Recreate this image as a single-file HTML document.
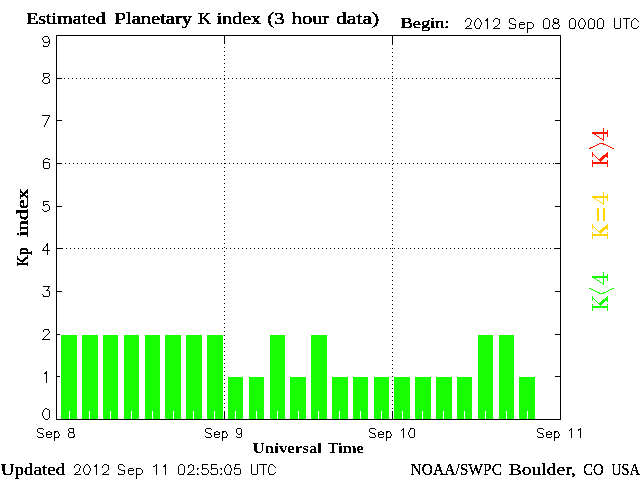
<!DOCTYPE html>
<html><head><meta charset="utf-8"><title>Estimated Planetary K index</title>
<style>
html,body{margin:0;padding:0;background:#fff;}
body{width:640px;height:480px;overflow:hidden;}
svg{display:block;}
.sb{font-family:"Liberation Serif",serif;font-weight:bold;fill:#000;}
.st{font-family:"Liberation Serif",serif;font-weight:normal;fill:#000;stroke:#000;stroke-width:0.6px;}
.sk{font-family:"Liberation Serif",serif;font-weight:normal;fill:#000;stroke:#000;stroke-width:0.95px;}
.sm{font-family:"Liberation Serif",serif;font-weight:normal;fill:#000;stroke:#000;stroke-width:0.42px;}
.hs{fill:none;stroke:#000;stroke-width:1;stroke-linecap:square;stroke-linejoin:miter;shape-rendering:crispEdges;}
</style></head><body>
<svg width="640" height="480" viewBox="0 0 640 480">
<defs>
<filter id="th" x="0" y="0" width="640" height="480" filterUnits="userSpaceOnUse" color-interpolation-filters="sRGB"><feComponentTransfer><feFuncA type="discrete" tableValues="0 0 0 1 1"/></feComponentTransfer></filter>
<filter id="th5" x="0" y="0" width="640" height="480" filterUnits="userSpaceOnUse" color-interpolation-filters="sRGB"><feComponentTransfer><feFuncA type="discrete" tableValues="0 1"/></feComponentTransfer></filter>
</defs>
<rect x="0" y="0" width="640" height="480" fill="#ffffff"/>

<g shape-rendering="crispEdges" fill="#000000">
<rect x="56" y="376" width="6" height="1"/>
<rect x="555" y="376" width="6" height="1"/>
<rect x="56" y="334" width="6" height="1"/>
<rect x="555" y="334" width="6" height="1"/>
<rect x="56" y="291" width="6" height="1"/>
<rect x="555" y="291" width="6" height="1"/>
<rect x="56" y="248" width="6" height="1"/>
<rect x="555" y="248" width="6" height="1"/>
<rect x="56" y="206" width="6" height="1"/>
<rect x="555" y="206" width="6" height="1"/>
<rect x="56" y="163" width="6" height="1"/>
<rect x="555" y="163" width="6" height="1"/>
<rect x="56" y="120" width="6" height="1"/>
<rect x="555" y="120" width="6" height="1"/>
<rect x="56" y="78" width="6" height="1"/>
<rect x="555" y="78" width="6" height="1"/>
</g>
<g shape-rendering="crispEdges" fill="#17ff00">
<rect fill="#ffffff" x="60" y="334" width="18" height="85"/><rect x="61" y="335" width="16" height="84"/>
<rect fill="#ffffff" x="81" y="334" width="18" height="85"/><rect x="82" y="335" width="16" height="84"/>
<rect fill="#ffffff" x="102" y="334" width="17" height="85"/><rect x="103" y="335" width="15" height="84"/>
<rect fill="#ffffff" x="123" y="334" width="17" height="85"/><rect x="124" y="335" width="15" height="84"/>
<rect fill="#ffffff" x="144" y="334" width="17" height="85"/><rect x="145" y="335" width="15" height="84"/>
<rect fill="#ffffff" x="164" y="334" width="18" height="85"/><rect x="165" y="335" width="16" height="84"/>
<rect fill="#ffffff" x="185" y="334" width="18" height="85"/><rect x="186" y="335" width="16" height="84"/>
<rect fill="#ffffff" x="206" y="334" width="18" height="85"/><rect x="207" y="335" width="16" height="84"/>
<rect fill="#ffffff" x="227" y="376" width="17" height="43"/><rect x="228" y="377" width="15" height="42"/>
<rect fill="#ffffff" x="248" y="376" width="17" height="43"/><rect x="249" y="377" width="15" height="42"/>
<rect fill="#ffffff" x="269" y="334" width="17" height="85"/><rect x="270" y="335" width="15" height="84"/>
<rect fill="#ffffff" x="289" y="376" width="18" height="43"/><rect x="290" y="377" width="16" height="42"/>
<rect fill="#ffffff" x="310" y="334" width="18" height="85"/><rect x="311" y="335" width="16" height="84"/>
<rect fill="#ffffff" x="331" y="376" width="18" height="43"/><rect x="332" y="377" width="16" height="42"/>
<rect fill="#ffffff" x="352" y="376" width="17" height="43"/><rect x="353" y="377" width="15" height="42"/>
<rect fill="#ffffff" x="373" y="376" width="17" height="43"/><rect x="374" y="377" width="15" height="42"/>
<rect fill="#ffffff" x="393" y="376" width="18" height="43"/><rect x="394" y="377" width="16" height="42"/>
<rect fill="#ffffff" x="414" y="376" width="18" height="43"/><rect x="415" y="377" width="16" height="42"/>
<rect fill="#ffffff" x="435" y="376" width="18" height="43"/><rect x="436" y="377" width="16" height="42"/>
<rect fill="#ffffff" x="456" y="376" width="17" height="43"/><rect x="457" y="377" width="15" height="42"/>
<rect fill="#ffffff" x="477" y="334" width="17" height="85"/><rect x="478" y="335" width="15" height="84"/>
<rect fill="#ffffff" x="498" y="334" width="17" height="85"/><rect x="499" y="335" width="15" height="84"/>
<rect fill="#ffffff" x="518" y="376" width="18" height="43"/><rect x="519" y="377" width="16" height="42"/>
</g>
<g shape-rendering="crispEdges" fill="#ffffff">
<rect x="69" y="411" width="1" height="8"/>
<rect x="89" y="411" width="1" height="8"/>
<rect x="110" y="411" width="1" height="8"/>
<rect x="131" y="411" width="1" height="8"/>
<rect x="152" y="411" width="1" height="8"/>
<rect x="173" y="411" width="1" height="8"/>
<rect x="193" y="411" width="1" height="8"/>
<rect x="214" y="411" width="1" height="8"/>
<rect x="235" y="411" width="1" height="8"/>
<rect x="256" y="411" width="1" height="8"/>
<rect x="277" y="411" width="1" height="8"/>
<rect x="298" y="411" width="1" height="8"/>
<rect x="318" y="411" width="1" height="8"/>
<rect x="339" y="411" width="1" height="8"/>
<rect x="360" y="411" width="1" height="8"/>
<rect x="381" y="411" width="1" height="8"/>
<rect x="402" y="411" width="1" height="8"/>
<rect x="422" y="411" width="1" height="8"/>
<rect x="443" y="411" width="1" height="8"/>
<rect x="464" y="411" width="1" height="8"/>
<rect x="485" y="411" width="1" height="8"/>
<rect x="506" y="411" width="1" height="8"/>
<rect x="527" y="411" width="1" height="8"/>
</g>
<g shape-rendering="crispEdges" fill="#000000">
<path d="M56 78h1v1h-1zM60 78h1v1h-1zM64 78h1v1h-1zM68 78h1v1h-1zM72 78h1v1h-1zM76 78h1v1h-1zM80 78h1v1h-1zM84 78h1v1h-1zM88 78h1v1h-1zM92 78h1v1h-1zM96 78h1v1h-1zM100 78h1v1h-1zM104 78h1v1h-1zM108 78h1v1h-1zM112 78h1v1h-1zM116 78h1v1h-1zM120 78h1v1h-1zM124 78h1v1h-1zM128 78h1v1h-1zM132 78h1v1h-1zM136 78h1v1h-1zM140 78h1v1h-1zM144 78h1v1h-1zM148 78h1v1h-1zM152 78h1v1h-1zM156 78h1v1h-1zM160 78h1v1h-1zM164 78h1v1h-1zM168 78h1v1h-1zM172 78h1v1h-1zM176 78h1v1h-1zM180 78h1v1h-1zM184 78h1v1h-1zM188 78h1v1h-1zM192 78h1v1h-1zM196 78h1v1h-1zM200 78h1v1h-1zM204 78h1v1h-1zM208 78h1v1h-1zM212 78h1v1h-1zM216 78h1v1h-1zM220 78h1v1h-1zM224 78h1v1h-1zM228 78h1v1h-1zM232 78h1v1h-1zM236 78h1v1h-1zM240 78h1v1h-1zM244 78h1v1h-1zM248 78h1v1h-1zM252 78h1v1h-1zM256 78h1v1h-1zM260 78h1v1h-1zM264 78h1v1h-1zM268 78h1v1h-1zM272 78h1v1h-1zM276 78h1v1h-1zM280 78h1v1h-1zM284 78h1v1h-1zM288 78h1v1h-1zM292 78h1v1h-1zM296 78h1v1h-1zM300 78h1v1h-1zM304 78h1v1h-1zM308 78h1v1h-1zM312 78h1v1h-1zM316 78h1v1h-1zM320 78h1v1h-1zM324 78h1v1h-1zM328 78h1v1h-1zM332 78h1v1h-1zM336 78h1v1h-1zM340 78h1v1h-1zM344 78h1v1h-1zM348 78h1v1h-1zM352 78h1v1h-1zM356 78h1v1h-1zM360 78h1v1h-1zM364 78h1v1h-1zM368 78h1v1h-1zM372 78h1v1h-1zM376 78h1v1h-1zM380 78h1v1h-1zM384 78h1v1h-1zM388 78h1v1h-1zM392 78h1v1h-1zM396 78h1v1h-1zM400 78h1v1h-1zM404 78h1v1h-1zM408 78h1v1h-1zM412 78h1v1h-1zM416 78h1v1h-1zM420 78h1v1h-1zM424 78h1v1h-1zM428 78h1v1h-1zM432 78h1v1h-1zM436 78h1v1h-1zM440 78h1v1h-1zM444 78h1v1h-1zM448 78h1v1h-1zM452 78h1v1h-1zM456 78h1v1h-1zM460 78h1v1h-1zM464 78h1v1h-1zM468 78h1v1h-1zM472 78h1v1h-1zM476 78h1v1h-1zM480 78h1v1h-1zM484 78h1v1h-1zM488 78h1v1h-1zM492 78h1v1h-1zM496 78h1v1h-1zM500 78h1v1h-1zM504 78h1v1h-1zM508 78h1v1h-1zM512 78h1v1h-1zM516 78h1v1h-1zM520 78h1v1h-1zM524 78h1v1h-1zM528 78h1v1h-1zM532 78h1v1h-1zM536 78h1v1h-1zM540 78h1v1h-1zM544 78h1v1h-1zM548 78h1v1h-1zM552 78h1v1h-1zM556 78h1v1h-1zM560 78h1v1h-1zM57 163h1v1h-1zM61 163h1v1h-1zM65 163h1v1h-1zM69 163h1v1h-1zM73 163h1v1h-1zM77 163h1v1h-1zM81 163h1v1h-1zM85 163h1v1h-1zM89 163h1v1h-1zM93 163h1v1h-1zM97 163h1v1h-1zM101 163h1v1h-1zM105 163h1v1h-1zM109 163h1v1h-1zM113 163h1v1h-1zM117 163h1v1h-1zM121 163h1v1h-1zM125 163h1v1h-1zM129 163h1v1h-1zM133 163h1v1h-1zM137 163h1v1h-1zM141 163h1v1h-1zM145 163h1v1h-1zM149 163h1v1h-1zM153 163h1v1h-1zM157 163h1v1h-1zM161 163h1v1h-1zM165 163h1v1h-1zM169 163h1v1h-1zM173 163h1v1h-1zM177 163h1v1h-1zM181 163h1v1h-1zM185 163h1v1h-1zM189 163h1v1h-1zM193 163h1v1h-1zM197 163h1v1h-1zM201 163h1v1h-1zM205 163h1v1h-1zM209 163h1v1h-1zM213 163h1v1h-1zM217 163h1v1h-1zM221 163h1v1h-1zM225 163h1v1h-1zM229 163h1v1h-1zM233 163h1v1h-1zM237 163h1v1h-1zM241 163h1v1h-1zM245 163h1v1h-1zM249 163h1v1h-1zM253 163h1v1h-1zM257 163h1v1h-1zM261 163h1v1h-1zM265 163h1v1h-1zM269 163h1v1h-1zM273 163h1v1h-1zM277 163h1v1h-1zM281 163h1v1h-1zM285 163h1v1h-1zM289 163h1v1h-1zM293 163h1v1h-1zM297 163h1v1h-1zM301 163h1v1h-1zM305 163h1v1h-1zM309 163h1v1h-1zM313 163h1v1h-1zM317 163h1v1h-1zM321 163h1v1h-1zM325 163h1v1h-1zM329 163h1v1h-1zM333 163h1v1h-1zM337 163h1v1h-1zM341 163h1v1h-1zM345 163h1v1h-1zM349 163h1v1h-1zM353 163h1v1h-1zM357 163h1v1h-1zM361 163h1v1h-1zM365 163h1v1h-1zM369 163h1v1h-1zM373 163h1v1h-1zM377 163h1v1h-1zM381 163h1v1h-1zM385 163h1v1h-1zM389 163h1v1h-1zM393 163h1v1h-1zM397 163h1v1h-1zM401 163h1v1h-1zM405 163h1v1h-1zM409 163h1v1h-1zM413 163h1v1h-1zM417 163h1v1h-1zM421 163h1v1h-1zM425 163h1v1h-1zM429 163h1v1h-1zM433 163h1v1h-1zM437 163h1v1h-1zM441 163h1v1h-1zM445 163h1v1h-1zM449 163h1v1h-1zM453 163h1v1h-1zM457 163h1v1h-1zM461 163h1v1h-1zM465 163h1v1h-1zM469 163h1v1h-1zM473 163h1v1h-1zM477 163h1v1h-1zM481 163h1v1h-1zM485 163h1v1h-1zM489 163h1v1h-1zM493 163h1v1h-1zM497 163h1v1h-1zM501 163h1v1h-1zM505 163h1v1h-1zM509 163h1v1h-1zM513 163h1v1h-1zM517 163h1v1h-1zM521 163h1v1h-1zM525 163h1v1h-1zM529 163h1v1h-1zM533 163h1v1h-1zM537 163h1v1h-1zM541 163h1v1h-1zM545 163h1v1h-1zM549 163h1v1h-1zM553 163h1v1h-1zM557 163h1v1h-1zM58 248h1v1h-1zM62 248h1v1h-1zM66 248h1v1h-1zM70 248h1v1h-1zM74 248h1v1h-1zM78 248h1v1h-1zM82 248h1v1h-1zM86 248h1v1h-1zM90 248h1v1h-1zM94 248h1v1h-1zM98 248h1v1h-1zM102 248h1v1h-1zM106 248h1v1h-1zM110 248h1v1h-1zM114 248h1v1h-1zM118 248h1v1h-1zM122 248h1v1h-1zM126 248h1v1h-1zM130 248h1v1h-1zM134 248h1v1h-1zM138 248h1v1h-1zM142 248h1v1h-1zM146 248h1v1h-1zM150 248h1v1h-1zM154 248h1v1h-1zM158 248h1v1h-1zM162 248h1v1h-1zM166 248h1v1h-1zM170 248h1v1h-1zM174 248h1v1h-1zM178 248h1v1h-1zM182 248h1v1h-1zM186 248h1v1h-1zM190 248h1v1h-1zM194 248h1v1h-1zM198 248h1v1h-1zM202 248h1v1h-1zM206 248h1v1h-1zM210 248h1v1h-1zM214 248h1v1h-1zM218 248h1v1h-1zM222 248h1v1h-1zM226 248h1v1h-1zM230 248h1v1h-1zM234 248h1v1h-1zM238 248h1v1h-1zM242 248h1v1h-1zM246 248h1v1h-1zM250 248h1v1h-1zM254 248h1v1h-1zM258 248h1v1h-1zM262 248h1v1h-1zM266 248h1v1h-1zM270 248h1v1h-1zM274 248h1v1h-1zM278 248h1v1h-1zM282 248h1v1h-1zM286 248h1v1h-1zM290 248h1v1h-1zM294 248h1v1h-1zM298 248h1v1h-1zM302 248h1v1h-1zM306 248h1v1h-1zM310 248h1v1h-1zM314 248h1v1h-1zM318 248h1v1h-1zM322 248h1v1h-1zM326 248h1v1h-1zM330 248h1v1h-1zM334 248h1v1h-1zM338 248h1v1h-1zM342 248h1v1h-1zM346 248h1v1h-1zM350 248h1v1h-1zM354 248h1v1h-1zM358 248h1v1h-1zM362 248h1v1h-1zM366 248h1v1h-1zM370 248h1v1h-1zM374 248h1v1h-1zM378 248h1v1h-1zM382 248h1v1h-1zM386 248h1v1h-1zM390 248h1v1h-1zM394 248h1v1h-1zM398 248h1v1h-1zM402 248h1v1h-1zM406 248h1v1h-1zM410 248h1v1h-1zM414 248h1v1h-1zM418 248h1v1h-1zM422 248h1v1h-1zM426 248h1v1h-1zM430 248h1v1h-1zM434 248h1v1h-1zM438 248h1v1h-1zM442 248h1v1h-1zM446 248h1v1h-1zM450 248h1v1h-1zM454 248h1v1h-1zM458 248h1v1h-1zM462 248h1v1h-1zM466 248h1v1h-1zM470 248h1v1h-1zM474 248h1v1h-1zM478 248h1v1h-1zM482 248h1v1h-1zM486 248h1v1h-1zM490 248h1v1h-1zM494 248h1v1h-1zM498 248h1v1h-1zM502 248h1v1h-1zM506 248h1v1h-1zM510 248h1v1h-1zM514 248h1v1h-1zM518 248h1v1h-1zM522 248h1v1h-1zM526 248h1v1h-1zM530 248h1v1h-1zM534 248h1v1h-1zM538 248h1v1h-1zM542 248h1v1h-1zM546 248h1v1h-1zM550 248h1v1h-1zM554 248h1v1h-1zM558 248h1v1h-1zM224 419h1v1h-1zM224 415h1v1h-1zM224 411h1v1h-1zM224 407h1v1h-1zM224 403h1v1h-1zM224 399h1v1h-1zM224 395h1v1h-1zM224 391h1v1h-1zM224 387h1v1h-1zM224 383h1v1h-1zM224 379h1v1h-1zM224 375h1v1h-1zM224 371h1v1h-1zM224 367h1v1h-1zM224 363h1v1h-1zM224 359h1v1h-1zM224 355h1v1h-1zM224 351h1v1h-1zM224 347h1v1h-1zM224 343h1v1h-1zM224 339h1v1h-1zM224 335h1v1h-1zM224 331h1v1h-1zM224 327h1v1h-1zM224 323h1v1h-1zM224 319h1v1h-1zM224 315h1v1h-1zM224 311h1v1h-1zM224 307h1v1h-1zM224 303h1v1h-1zM224 299h1v1h-1zM224 295h1v1h-1zM224 291h1v1h-1zM224 287h1v1h-1zM224 283h1v1h-1zM224 279h1v1h-1zM224 275h1v1h-1zM224 271h1v1h-1zM224 267h1v1h-1zM224 263h1v1h-1zM224 259h1v1h-1zM224 255h1v1h-1zM224 251h1v1h-1zM224 247h1v1h-1zM224 243h1v1h-1zM224 239h1v1h-1zM224 235h1v1h-1zM224 231h1v1h-1zM224 227h1v1h-1zM224 223h1v1h-1zM224 219h1v1h-1zM224 215h1v1h-1zM224 211h1v1h-1zM224 207h1v1h-1zM224 203h1v1h-1zM224 199h1v1h-1zM224 195h1v1h-1zM224 191h1v1h-1zM224 187h1v1h-1zM224 183h1v1h-1zM224 179h1v1h-1zM224 175h1v1h-1zM224 171h1v1h-1zM224 167h1v1h-1zM224 163h1v1h-1zM224 159h1v1h-1zM224 155h1v1h-1zM224 151h1v1h-1zM224 147h1v1h-1zM224 143h1v1h-1zM224 139h1v1h-1zM224 135h1v1h-1zM224 131h1v1h-1zM224 127h1v1h-1zM224 123h1v1h-1zM224 119h1v1h-1zM224 115h1v1h-1zM224 111h1v1h-1zM224 107h1v1h-1zM224 103h1v1h-1zM224 99h1v1h-1zM224 95h1v1h-1zM224 91h1v1h-1zM224 87h1v1h-1zM224 83h1v1h-1zM224 79h1v1h-1zM224 75h1v1h-1zM224 71h1v1h-1zM224 67h1v1h-1zM224 63h1v1h-1zM224 59h1v1h-1zM224 55h1v1h-1zM224 51h1v1h-1zM224 47h1v1h-1zM224 43h1v1h-1zM224 39h1v1h-1zM224 35h1v1h-1zM392 416h1v1h-1zM392 412h1v1h-1zM392 408h1v1h-1zM392 404h1v1h-1zM392 400h1v1h-1zM392 396h1v1h-1zM392 392h1v1h-1zM392 388h1v1h-1zM392 384h1v1h-1zM392 380h1v1h-1zM392 376h1v1h-1zM392 372h1v1h-1zM392 368h1v1h-1zM392 364h1v1h-1zM392 360h1v1h-1zM392 356h1v1h-1zM392 352h1v1h-1zM392 348h1v1h-1zM392 344h1v1h-1zM392 340h1v1h-1zM392 336h1v1h-1zM392 332h1v1h-1zM392 328h1v1h-1zM392 324h1v1h-1zM392 320h1v1h-1zM392 316h1v1h-1zM392 312h1v1h-1zM392 308h1v1h-1zM392 304h1v1h-1zM392 300h1v1h-1zM392 296h1v1h-1zM392 292h1v1h-1zM392 288h1v1h-1zM392 284h1v1h-1zM392 280h1v1h-1zM392 276h1v1h-1zM392 272h1v1h-1zM392 268h1v1h-1zM392 264h1v1h-1zM392 260h1v1h-1zM392 256h1v1h-1zM392 252h1v1h-1zM392 248h1v1h-1zM392 244h1v1h-1zM392 240h1v1h-1zM392 236h1v1h-1zM392 232h1v1h-1zM392 228h1v1h-1zM392 224h1v1h-1zM392 220h1v1h-1zM392 216h1v1h-1zM392 212h1v1h-1zM392 208h1v1h-1zM392 204h1v1h-1zM392 200h1v1h-1zM392 196h1v1h-1zM392 192h1v1h-1zM392 188h1v1h-1zM392 184h1v1h-1zM392 180h1v1h-1zM392 176h1v1h-1zM392 172h1v1h-1zM392 168h1v1h-1zM392 164h1v1h-1zM392 160h1v1h-1zM392 156h1v1h-1zM392 152h1v1h-1zM392 148h1v1h-1zM392 144h1v1h-1zM392 140h1v1h-1zM392 136h1v1h-1zM392 132h1v1h-1zM392 128h1v1h-1zM392 124h1v1h-1zM392 120h1v1h-1zM392 116h1v1h-1zM392 112h1v1h-1zM392 108h1v1h-1zM392 104h1v1h-1zM392 100h1v1h-1zM392 96h1v1h-1zM392 92h1v1h-1zM392 88h1v1h-1zM392 84h1v1h-1zM392 80h1v1h-1zM392 76h1v1h-1zM392 72h1v1h-1zM392 68h1v1h-1zM392 64h1v1h-1zM392 60h1v1h-1zM392 56h1v1h-1zM392 52h1v1h-1zM392 48h1v1h-1zM392 44h1v1h-1zM392 40h1v1h-1zM392 36h1v1h-1z"/>
<rect x="56" y="35" width="505" height="1"/>
<rect x="56" y="419" width="505" height="1"/>
<rect x="56" y="35" width="1" height="385"/>
<rect x="560" y="35" width="1" height="385"/>
<rect x="224" y="411" width="1" height="8"/>
<rect x="224" y="35" width="1" height="9"/>
<rect x="392" y="411" width="1" height="8"/>
<rect x="392" y="35" width="1" height="9"/>
</g>
<path fill="#000" shape-rendering="crispEdges" d="M467 18h3v1h-3zM477 18h2v1h-2zM487 18h1v1h-1zM495 18h3v1h-3zM510 18h4v1h-4zM545 18h3v1h-3zM554 18h3v1h-3zM571 18h3v1h-3zM581 18h2v1h-2zM590 18h2v1h-2zM599 18h3v1h-3zM614 18h1v1h-1zM620 18h1v1h-1zM623 18h7v1h-7zM634 18h2v1h-2zM466 19h1v1h-1zM470 19h1v1h-1zM476 19h1v1h-1zM479 19h1v1h-1zM486 19h2v1h-2zM494 19h1v1h-1zM498 19h2v1h-2zM509 19h1v1h-1zM514 19h1v1h-1zM544 19h1v1h-1zM548 19h1v1h-1zM553 19h1v1h-1zM557 19h2v1h-2zM570 19h1v1h-1zM574 19h1v1h-1zM580 19h1v1h-1zM583 19h1v1h-1zM589 19h1v1h-1zM592 19h2v1h-2zM598 19h1v1h-1zM602 19h1v1h-1zM614 19h1v1h-1zM620 19h1v1h-1zM626 19h1v1h-1zM633 19h1v1h-1zM636 19h1v1h-1zM465 20h1v1h-1zM471 20h1v1h-1zM475 20h1v1h-1zM480 20h1v1h-1zM485 20h3v1h-3zM493 20h1v1h-1zM499 20h1v1h-1zM509 20h1v1h-1zM515 20h1v1h-1zM543 20h1v1h-1zM549 20h1v1h-1zM553 20h1v1h-1zM558 20h1v1h-1zM569 20h1v1h-1zM575 20h1v1h-1zM579 20h1v1h-1zM584 20h1v1h-1zM588 20h1v1h-1zM594 20h1v1h-1zM597 20h1v1h-1zM603 20h1v1h-1zM614 20h1v1h-1zM620 20h1v1h-1zM626 20h1v1h-1zM632 20h1v1h-1zM637 20h1v1h-1zM465 21h1v1h-1zM471 21h1v1h-1zM475 21h1v1h-1zM480 21h1v1h-1zM487 21h1v1h-1zM493 21h1v1h-1zM499 21h1v1h-1zM509 21h1v1h-1zM543 21h1v1h-1zM549 21h1v1h-1zM553 21h1v1h-1zM558 21h1v1h-1zM569 21h1v1h-1zM575 21h1v1h-1zM579 21h1v1h-1zM584 21h1v1h-1zM588 21h1v1h-1zM594 21h1v1h-1zM597 21h1v1h-1zM603 21h1v1h-1zM614 21h1v1h-1zM620 21h1v1h-1zM626 21h1v1h-1zM631 21h1v1h-1zM638 21h1v1h-1zM470 22h1v1h-1zM474 22h1v1h-1zM481 22h1v1h-1zM487 22h1v1h-1zM499 22h1v1h-1zM509 22h1v1h-1zM520 22h4v1h-4zM527 22h5v1h-5zM543 22h1v1h-1zM549 22h1v1h-1zM553 22h3v1h-3zM557 22h2v1h-2zM569 22h1v1h-1zM575 22h1v1h-1zM578 22h1v1h-1zM585 22h1v1h-1zM588 22h1v1h-1zM594 22h1v1h-1zM597 22h1v1h-1zM603 22h1v1h-1zM614 22h1v1h-1zM620 22h1v1h-1zM626 22h1v1h-1zM631 22h1v1h-1zM470 23h1v1h-1zM474 23h1v1h-1zM481 23h1v1h-1zM487 23h1v1h-1zM499 23h1v1h-1zM510 23h2v1h-2zM519 23h1v1h-1zM524 23h1v1h-1zM527 23h1v1h-1zM532 23h1v1h-1zM543 23h1v1h-1zM549 23h1v1h-1zM554 23h4v1h-4zM569 23h1v1h-1zM575 23h1v1h-1zM578 23h1v1h-1zM585 23h1v1h-1zM588 23h1v1h-1zM594 23h1v1h-1zM597 23h1v1h-1zM603 23h1v1h-1zM614 23h1v1h-1zM620 23h1v1h-1zM626 23h1v1h-1zM631 23h1v1h-1zM470 24h1v1h-1zM474 24h1v1h-1zM481 24h1v1h-1zM487 24h1v1h-1zM498 24h1v1h-1zM512 24h4v1h-4zM519 24h6v1h-6zM527 24h1v1h-1zM533 24h1v1h-1zM543 24h1v1h-1zM549 24h1v1h-1zM553 24h1v1h-1zM558 24h1v1h-1zM569 24h1v1h-1zM575 24h1v1h-1zM578 24h1v1h-1zM585 24h1v1h-1zM588 24h1v1h-1zM594 24h1v1h-1zM597 24h1v1h-1zM603 24h1v1h-1zM614 24h1v1h-1zM620 24h1v1h-1zM626 24h1v1h-1zM631 24h1v1h-1zM469 25h1v1h-1zM474 25h1v1h-1zM480 25h1v1h-1zM487 25h1v1h-1zM497 25h1v1h-1zM515 25h1v1h-1zM519 25h1v1h-1zM527 25h1v1h-1zM533 25h1v1h-1zM543 25h1v1h-1zM549 25h1v1h-1zM552 25h1v1h-1zM559 25h1v1h-1zM569 25h1v1h-1zM575 25h1v1h-1zM578 25h1v1h-1zM584 25h1v1h-1zM588 25h1v1h-1zM594 25h1v1h-1zM597 25h1v1h-1zM603 25h1v1h-1zM614 25h1v1h-1zM620 25h1v1h-1zM626 25h1v1h-1zM631 25h1v1h-1zM467 26h2v1h-2zM475 26h1v1h-1zM480 26h1v1h-1zM487 26h1v1h-1zM495 26h2v1h-2zM515 26h1v1h-1zM519 26h1v1h-1zM527 26h1v1h-1zM533 26h1v1h-1zM543 26h1v1h-1zM549 26h1v1h-1zM552 26h1v1h-1zM559 26h1v1h-1zM569 26h1v1h-1zM575 26h1v1h-1zM579 26h1v1h-1zM584 26h1v1h-1zM588 26h1v1h-1zM594 26h1v1h-1zM597 26h1v1h-1zM603 26h1v1h-1zM614 26h1v1h-1zM620 26h1v1h-1zM626 26h1v1h-1zM631 26h1v1h-1zM638 26h1v1h-1zM466 27h1v1h-1zM475 27h1v1h-1zM479 27h1v1h-1zM487 27h1v1h-1zM494 27h1v1h-1zM509 27h1v1h-1zM515 27h1v1h-1zM519 27h1v1h-1zM524 27h1v1h-1zM527 27h1v1h-1zM532 27h1v1h-1zM543 27h1v1h-1zM548 27h1v1h-1zM553 27h1v1h-1zM558 27h1v1h-1zM569 27h1v1h-1zM574 27h1v1h-1zM579 27h1v1h-1zM583 27h1v1h-1zM588 27h1v1h-1zM593 27h1v1h-1zM597 27h1v1h-1zM602 27h1v1h-1zM614 27h1v1h-1zM620 27h1v1h-1zM626 27h1v1h-1zM632 27h1v1h-1zM637 27h1v1h-1zM465 28h7v1h-7zM476 28h4v1h-4zM487 28h1v1h-1zM493 28h7v1h-7zM509 28h6v1h-6zM520 28h4v1h-4zM527 28h5v1h-5zM544 28h5v1h-5zM553 28h6v1h-6zM570 28h5v1h-5zM580 28h4v1h-4zM589 28h5v1h-5zM598 28h5v1h-5zM615 28h5v1h-5zM626 28h1v1h-1zM633 28h4v1h-4zM527 29h1v1h-1zM527 30h1v1h-1zM527 31h1v1h-1zM527 32h1v1h-1zM44 36h4v1h-4zM43 37h1v1h-1zM48 37h1v1h-1zM42 38h1v1h-1zM48 38h1v1h-1zM42 39h1v1h-1zM49 39h1v1h-1zM43 40h1v1h-1zM49 40h1v1h-1zM43 41h1v1h-1zM48 41h2v1h-2zM44 42h4v1h-4zM49 42h1v1h-1zM49 43h1v1h-1zM48 44h1v1h-1zM43 45h1v1h-1zM48 45h1v1h-1zM43 46h5v1h-5zM43 73h6v1h-6zM43 74h1v1h-1zM49 74h1v1h-1zM43 75h1v1h-1zM49 75h1v1h-1zM43 76h1v1h-1zM48 76h1v1h-1zM44 77h4v1h-4zM44 78h1v1h-1zM48 78h1v1h-1zM43 79h1v1h-1zM49 79h1v1h-1zM42 80h1v1h-1zM49 80h1v1h-1zM42 81h1v1h-1zM49 81h1v1h-1zM43 82h1v1h-1zM48 82h2v1h-2zM44 83h4v1h-4zM42 115h8v1h-8zM49 116h1v1h-1zM48 117h1v1h-1zM48 118h1v1h-1zM47 119h1v1h-1zM47 120h1v1h-1zM46 121h1v1h-1zM46 122h1v1h-1zM45 123h1v1h-1zM45 124h1v1h-1zM44 125h1v1h-1zM44 126h1v1h-1zM45 158h3v1h-3zM44 159h1v1h-1zM48 159h2v1h-2zM43 160h1v1h-1zM43 161h1v1h-1zM43 162h6v1h-6zM43 163h1v1h-1zM49 163h1v1h-1zM43 164h1v1h-1zM49 164h1v1h-1zM43 165h1v1h-1zM49 165h1v1h-1zM43 166h1v1h-1zM49 166h1v1h-1zM43 167h1v1h-1zM49 167h1v1h-1zM44 168h5v1h-5zM43 201h6v1h-6zM43 202h1v1h-1zM43 203h1v1h-1zM43 204h1v1h-1zM45 204h3v1h-3zM43 205h2v1h-2zM48 205h1v1h-1zM49 206h1v1h-1zM49 207h1v1h-1zM49 208h1v1h-1zM42 209h1v1h-1zM49 209h1v1h-1zM43 210h1v1h-1zM47 210h2v1h-2zM44 211h3v1h-3zM47 243h1v1h-1zM46 244h2v1h-2zM46 245h2v1h-2zM45 246h1v1h-1zM47 246h1v1h-1zM44 247h1v1h-1zM47 247h1v1h-1zM43 248h1v1h-1zM47 248h1v1h-1zM43 249h1v1h-1zM47 249h1v1h-1zM42 250h8v1h-8zM47 251h1v1h-1zM47 252h1v1h-1zM47 253h1v1h-1zM47 254h1v1h-1zM43 286h7v1h-7zM48 287h1v1h-1zM48 288h1v1h-1zM47 289h1v1h-1zM46 290h3v1h-3zM49 291h1v1h-1zM49 292h1v1h-1zM49 293h1v1h-1zM42 294h1v1h-1zM49 294h1v1h-1zM43 295h1v1h-1zM49 295h1v1h-1zM43 296h6v1h-6zM44 329h5v1h-5zM43 330h1v1h-1zM48 330h1v1h-1zM43 331h1v1h-1zM49 331h1v1h-1zM49 332h1v1h-1zM48 333h1v1h-1zM47 334h1v1h-1zM46 335h1v1h-1zM45 336h1v1h-1zM44 337h1v1h-1zM43 338h1v1h-1zM42 339h8v1h-8zM46 371h1v1h-1zM45 372h2v1h-2zM44 373h3v1h-3zM46 374h1v1h-1zM46 375h1v1h-1zM46 376h1v1h-1zM46 377h1v1h-1zM46 378h1v1h-1zM46 379h1v1h-1zM46 380h1v1h-1zM46 381h1v1h-1zM46 382h1v1h-1zM45 408h2v1h-2zM44 409h1v1h-1zM47 409h2v1h-2zM43 410h1v1h-1zM49 410h1v1h-1zM43 411h1v1h-1zM49 411h1v1h-1zM42 412h1v1h-1zM49 412h1v1h-1zM42 413h1v1h-1zM49 413h1v1h-1zM42 414h1v1h-1zM49 414h1v1h-1zM42 415h1v1h-1zM49 415h1v1h-1zM43 416h1v1h-1zM49 416h1v1h-1zM43 417h1v1h-1zM49 417h1v1h-1zM44 418h1v1h-1zM48 418h1v1h-1zM45 419h3v1h-3zM38 428h5v1h-5zM69 428h5v1h-5zM206 428h5v1h-5zM237 428h4v1h-4zM370 428h5v1h-5zM403 428h1v1h-1zM410 428h4v1h-4zM538 428h5v1h-5zM571 428h1v1h-1zM580 428h1v1h-1zM37 429h1v1h-1zM43 429h1v1h-1zM68 429h1v1h-1zM73 429h1v1h-1zM205 429h1v1h-1zM211 429h1v1h-1zM236 429h1v1h-1zM241 429h1v1h-1zM369 429h1v1h-1zM375 429h1v1h-1zM402 429h2v1h-2zM410 429h1v1h-1zM414 429h1v1h-1zM537 429h1v1h-1zM543 429h1v1h-1zM570 429h2v1h-2zM578 429h3v1h-3zM37 430h1v1h-1zM68 430h1v1h-1zM73 430h1v1h-1zM205 430h1v1h-1zM236 430h1v1h-1zM241 430h1v1h-1zM369 430h1v1h-1zM401 430h1v1h-1zM403 430h1v1h-1zM409 430h1v1h-1zM414 430h1v1h-1zM537 430h1v1h-1zM569 430h1v1h-1zM571 430h1v1h-1zM578 430h1v1h-1zM580 430h1v1h-1zM37 431h1v1h-1zM48 431h2v1h-2zM54 431h4v1h-4zM69 431h1v1h-1zM73 431h1v1h-1zM205 431h1v1h-1zM216 431h2v1h-2zM222 431h4v1h-4zM236 431h1v1h-1zM241 431h1v1h-1zM369 431h1v1h-1zM380 431h2v1h-2zM386 431h4v1h-4zM403 431h1v1h-1zM409 431h1v1h-1zM414 431h1v1h-1zM537 431h1v1h-1zM548 431h2v1h-2zM554 431h4v1h-4zM571 431h1v1h-1zM580 431h1v1h-1zM38 432h2v1h-2zM46 432h2v1h-2zM50 432h2v1h-2zM54 432h2v1h-2zM58 432h1v1h-1zM69 432h5v1h-5zM206 432h2v1h-2zM214 432h2v1h-2zM218 432h2v1h-2zM222 432h2v1h-2zM226 432h1v1h-1zM236 432h1v1h-1zM241 432h1v1h-1zM370 432h2v1h-2zM378 432h2v1h-2zM382 432h2v1h-2zM386 432h2v1h-2zM390 432h1v1h-1zM403 432h1v1h-1zM408 432h1v1h-1zM414 432h1v1h-1zM538 432h2v1h-2zM546 432h2v1h-2zM550 432h2v1h-2zM554 432h2v1h-2zM558 432h1v1h-1zM571 432h1v1h-1zM580 432h1v1h-1zM40 433h3v1h-3zM46 433h1v1h-1zM51 433h1v1h-1zM54 433h1v1h-1zM58 433h1v1h-1zM68 433h1v1h-1zM73 433h1v1h-1zM208 433h3v1h-3zM214 433h1v1h-1zM219 433h1v1h-1zM222 433h1v1h-1zM226 433h1v1h-1zM237 433h1v1h-1zM240 433h2v1h-2zM372 433h3v1h-3zM378 433h1v1h-1zM383 433h1v1h-1zM386 433h1v1h-1zM390 433h1v1h-1zM403 433h1v1h-1zM408 433h1v1h-1zM414 433h1v1h-1zM540 433h3v1h-3zM546 433h1v1h-1zM551 433h1v1h-1zM554 433h1v1h-1zM558 433h1v1h-1zM571 433h1v1h-1zM580 433h1v1h-1zM42 434h1v1h-1zM46 434h6v1h-6zM54 434h1v1h-1zM59 434h1v1h-1zM68 434h1v1h-1zM74 434h1v1h-1zM210 434h1v1h-1zM214 434h6v1h-6zM222 434h1v1h-1zM227 434h1v1h-1zM238 434h2v1h-2zM241 434h1v1h-1zM374 434h1v1h-1zM378 434h6v1h-6zM386 434h1v1h-1zM391 434h1v1h-1zM403 434h1v1h-1zM408 434h1v1h-1zM414 434h1v1h-1zM542 434h1v1h-1zM546 434h6v1h-6zM554 434h1v1h-1zM559 434h1v1h-1zM571 434h1v1h-1zM580 434h1v1h-1zM43 435h1v1h-1zM46 435h1v1h-1zM54 435h1v1h-1zM59 435h1v1h-1zM68 435h1v1h-1zM74 435h1v1h-1zM211 435h1v1h-1zM214 435h1v1h-1zM222 435h1v1h-1zM227 435h1v1h-1zM241 435h1v1h-1zM375 435h1v1h-1zM378 435h1v1h-1zM386 435h1v1h-1zM391 435h1v1h-1zM403 435h1v1h-1zM409 435h1v1h-1zM414 435h1v1h-1zM543 435h1v1h-1zM546 435h1v1h-1zM554 435h1v1h-1zM559 435h1v1h-1zM571 435h1v1h-1zM580 435h1v1h-1zM37 436h1v1h-1zM43 436h1v1h-1zM46 436h1v1h-1zM51 436h1v1h-1zM54 436h1v1h-1zM58 436h1v1h-1zM68 436h1v1h-1zM73 436h2v1h-2zM205 436h1v1h-1zM211 436h1v1h-1zM214 436h1v1h-1zM219 436h1v1h-1zM222 436h1v1h-1zM226 436h1v1h-1zM236 436h1v1h-1zM241 436h1v1h-1zM369 436h1v1h-1zM375 436h1v1h-1zM378 436h1v1h-1zM383 436h1v1h-1zM386 436h1v1h-1zM390 436h1v1h-1zM403 436h1v1h-1zM409 436h1v1h-1zM414 436h1v1h-1zM537 436h1v1h-1zM543 436h1v1h-1zM546 436h1v1h-1zM551 436h1v1h-1zM554 436h1v1h-1zM558 436h1v1h-1zM571 436h1v1h-1zM580 436h1v1h-1zM38 437h5v1h-5zM47 437h4v1h-4zM54 437h5v1h-5zM69 437h5v1h-5zM206 437h5v1h-5zM215 437h4v1h-4zM222 437h5v1h-5zM237 437h4v1h-4zM370 437h5v1h-5zM379 437h4v1h-4zM386 437h5v1h-5zM403 437h1v1h-1zM410 437h4v1h-4zM538 437h5v1h-5zM547 437h4v1h-4zM554 437h5v1h-5zM571 437h1v1h-1zM580 437h1v1h-1zM54 438h1v1h-1zM222 438h1v1h-1zM386 438h1v1h-1zM554 438h1v1h-1zM54 439h1v1h-1zM222 439h1v1h-1zM386 439h1v1h-1zM554 439h1v1h-1zM54 440h1v1h-1zM222 440h1v1h-1zM386 440h1v1h-1zM554 440h1v1h-1zM76 464h3v1h-3zM86 464h2v1h-2zM96 464h1v1h-1zM104 464h3v1h-3zM119 464h4v1h-4zM156 464h1v1h-1zM165 464h1v1h-1zM180 464h3v1h-3zM190 464h2v1h-2zM202 464h6v1h-6zM211 464h6v1h-6zM227 464h2v1h-2zM235 464h5v1h-5zM251 464h1v1h-1zM257 464h1v1h-1zM259 464h8v1h-8zM270 464h3v1h-3zM75 465h1v1h-1zM79 465h1v1h-1zM85 465h1v1h-1zM88 465h1v1h-1zM95 465h2v1h-2zM103 465h1v1h-1zM107 465h2v1h-2zM118 465h1v1h-1zM123 465h1v1h-1zM155 465h2v1h-2zM164 465h2v1h-2zM179 465h1v1h-1zM183 465h1v1h-1zM188 465h2v1h-2zM192 465h2v1h-2zM202 465h1v1h-1zM211 465h1v1h-1zM226 465h1v1h-1zM229 465h2v1h-2zM235 465h1v1h-1zM251 465h1v1h-1zM257 465h1v1h-1zM263 465h1v1h-1zM269 465h1v1h-1zM273 465h1v1h-1zM74 466h1v1h-1zM80 466h1v1h-1zM84 466h1v1h-1zM89 466h1v1h-1zM94 466h3v1h-3zM102 466h1v1h-1zM108 466h1v1h-1zM118 466h1v1h-1zM124 466h1v1h-1zM153 466h2v1h-2zM156 466h1v1h-1zM163 466h3v1h-3zM178 466h1v1h-1zM184 466h1v1h-1zM188 466h1v1h-1zM193 466h1v1h-1zM202 466h1v1h-1zM211 466h1v1h-1zM225 466h1v1h-1zM230 466h1v1h-1zM235 466h1v1h-1zM251 466h1v1h-1zM257 466h1v1h-1zM263 466h1v1h-1zM269 466h1v1h-1zM274 466h1v1h-1zM74 467h1v1h-1zM80 467h1v1h-1zM84 467h1v1h-1zM89 467h1v1h-1zM96 467h1v1h-1zM102 467h1v1h-1zM108 467h1v1h-1zM118 467h1v1h-1zM156 467h1v1h-1zM165 467h1v1h-1zM178 467h1v1h-1zM184 467h1v1h-1zM188 467h1v1h-1zM193 467h1v1h-1zM202 467h1v1h-1zM211 467h1v1h-1zM225 467h1v1h-1zM230 467h1v1h-1zM234 467h1v1h-1zM251 467h1v1h-1zM257 467h1v1h-1zM263 467h1v1h-1zM268 467h1v1h-1zM275 467h1v1h-1zM79 468h1v1h-1zM83 468h1v1h-1zM90 468h1v1h-1zM96 468h1v1h-1zM108 468h1v1h-1zM118 468h1v1h-1zM129 468h4v1h-4zM136 468h5v1h-5zM156 468h1v1h-1zM165 468h1v1h-1zM178 468h1v1h-1zM184 468h1v1h-1zM193 468h1v1h-1zM197 468h2v1h-2zM202 468h5v1h-5zM211 468h6v1h-6zM220 468h2v1h-2zM224 468h1v1h-1zM231 468h1v1h-1zM234 468h6v1h-6zM251 468h1v1h-1zM257 468h1v1h-1zM263 468h1v1h-1zM268 468h1v1h-1zM79 469h1v1h-1zM83 469h1v1h-1zM90 469h1v1h-1zM96 469h1v1h-1zM108 469h1v1h-1zM119 469h2v1h-2zM128 469h1v1h-1zM133 469h1v1h-1zM136 469h1v1h-1zM141 469h1v1h-1zM156 469h1v1h-1zM165 469h1v1h-1zM178 469h1v1h-1zM184 469h1v1h-1zM193 469h1v1h-1zM197 469h1v1h-1zM202 469h1v1h-1zM207 469h1v1h-1zM211 469h1v1h-1zM217 469h1v1h-1zM221 469h1v1h-1zM224 469h1v1h-1zM231 469h1v1h-1zM234 469h1v1h-1zM240 469h1v1h-1zM251 469h1v1h-1zM257 469h1v1h-1zM263 469h1v1h-1zM268 469h1v1h-1zM79 470h1v1h-1zM83 470h1v1h-1zM90 470h1v1h-1zM96 470h1v1h-1zM107 470h1v1h-1zM121 470h4v1h-4zM128 470h6v1h-6zM136 470h1v1h-1zM142 470h1v1h-1zM156 470h1v1h-1zM165 470h1v1h-1zM178 470h1v1h-1zM184 470h1v1h-1zM192 470h1v1h-1zM208 470h1v1h-1zM217 470h1v1h-1zM224 470h1v1h-1zM231 470h1v1h-1zM240 470h1v1h-1zM251 470h1v1h-1zM257 470h1v1h-1zM263 470h1v1h-1zM268 470h1v1h-1zM78 471h1v1h-1zM83 471h1v1h-1zM89 471h1v1h-1zM96 471h1v1h-1zM106 471h1v1h-1zM124 471h1v1h-1zM128 471h1v1h-1zM136 471h1v1h-1zM142 471h1v1h-1zM156 471h1v1h-1zM165 471h1v1h-1zM178 471h1v1h-1zM184 471h1v1h-1zM191 471h1v1h-1zM208 471h1v1h-1zM217 471h1v1h-1zM224 471h1v1h-1zM230 471h1v1h-1zM240 471h1v1h-1zM251 471h1v1h-1zM257 471h1v1h-1zM263 471h1v1h-1zM268 471h1v1h-1zM76 472h2v1h-2zM84 472h1v1h-1zM89 472h1v1h-1zM96 472h1v1h-1zM104 472h2v1h-2zM124 472h1v1h-1zM128 472h1v1h-1zM136 472h1v1h-1zM142 472h1v1h-1zM156 472h1v1h-1zM165 472h1v1h-1zM178 472h1v1h-1zM184 472h1v1h-1zM189 472h2v1h-2zM201 472h1v1h-1zM208 472h1v1h-1zM210 472h1v1h-1zM217 472h1v1h-1zM225 472h1v1h-1zM230 472h1v1h-1zM234 472h1v1h-1zM240 472h1v1h-1zM251 472h1v1h-1zM257 472h1v1h-1zM263 472h1v1h-1zM268 472h1v1h-1zM275 472h1v1h-1zM75 473h1v1h-1zM84 473h1v1h-1zM88 473h1v1h-1zM96 473h1v1h-1zM103 473h1v1h-1zM118 473h1v1h-1zM124 473h1v1h-1zM128 473h1v1h-1zM133 473h1v1h-1zM136 473h1v1h-1zM141 473h1v1h-1zM156 473h1v1h-1zM165 473h1v1h-1zM178 473h1v1h-1zM183 473h1v1h-1zM188 473h1v1h-1zM197 473h1v1h-1zM202 473h1v1h-1zM207 473h1v1h-1zM211 473h1v1h-1zM217 473h1v1h-1zM221 473h1v1h-1zM225 473h1v1h-1zM230 473h1v1h-1zM234 473h1v1h-1zM240 473h1v1h-1zM251 473h1v1h-1zM257 473h1v1h-1zM263 473h1v1h-1zM269 473h1v1h-1zM274 473h1v1h-1zM74 474h7v1h-7zM85 474h4v1h-4zM96 474h1v1h-1zM102 474h7v1h-7zM118 474h6v1h-6zM129 474h4v1h-4zM136 474h5v1h-5zM156 474h1v1h-1zM165 474h1v1h-1zM179 474h5v1h-5zM187 474h8v1h-8zM197 474h2v1h-2zM202 474h5v1h-5zM211 474h6v1h-6zM220 474h2v1h-2zM226 474h5v1h-5zM235 474h5v1h-5zM252 474h5v1h-5zM263 474h1v1h-1zM269 474h5v1h-5zM136 475h1v1h-1zM136 476h1v1h-1zM136 477h1v1h-1zM136 478h1v1h-1z"/>
<g filter="url(#th)">
<text class="st" font-size="17" x="26.20" y="24.00" textLength="79.60" lengthAdjust="spacingAndGlyphs">Estimated</text>
<text class="st" font-size="17" x="114.50" y="24.00" textLength="77.60" lengthAdjust="spacingAndGlyphs">Planetary</text>
<text class="st" font-size="17" x="198.00" y="24.00" textLength="13.30" lengthAdjust="spacingAndGlyphs">K</text>
<text class="st" font-size="17" x="216.70" y="24.00" textLength="44.40" lengthAdjust="spacingAndGlyphs">index</text>
<text class="st" font-size="17" x="267.20" y="24.00" textLength="17.40" lengthAdjust="spacingAndGlyphs">(3</text>
<text class="st" font-size="17" x="291.70" y="24.00" textLength="37.50" lengthAdjust="spacingAndGlyphs">hour</text>
<text class="st" font-size="17" x="336.10" y="24.00" textLength="43.10" lengthAdjust="spacingAndGlyphs">data)</text>
<text class="st" font-size="15.5" x="400.60" y="28.00" textLength="48.80" lengthAdjust="spacingAndGlyphs">Begin:</text>
</g><g filter="url(#th5)">
<text class="sb" font-size="15" x="252.60" y="453.00" textLength="69.45" lengthAdjust="spacingAndGlyphs">Universal</text>
<text class="sb" font-size="15" x="327.20" y="453.00" textLength="36.85" lengthAdjust="spacingAndGlyphs">Time</text>
</g><g filter="url(#th)">
<text class="sm" font-size="17" x="0.70" y="475.00" textLength="64.60" lengthAdjust="spacingAndGlyphs">Updated</text>
<text class="sm" font-size="16" x="410.45" y="475.00" textLength="91.60" lengthAdjust="spacingAndGlyphs">NOAA/SWPC</text>
<text class="sm" font-size="16" x="582.95" y="475.00" textLength="20.85" lengthAdjust="spacingAndGlyphs">CO</text>
<text class="sm" font-size="16" x="611.20" y="475.00" textLength="28.85" lengthAdjust="spacingAndGlyphs">USA</text>
<text class="sm" font-size="17.5" x="508.70" y="475.00" textLength="67.10" lengthAdjust="spacingAndGlyphs">Boulder,</text>
</g><g filter="url(#th5)">
<g transform="translate(28,266.5) rotate(-90)">
<text class="st" font-size="17" x="0" y="0" textLength="19" lengthAdjust="spacingAndGlyphs">Kp</text><text class="st" font-size="17" x="29.8" y="0" textLength="48" lengthAdjust="spacingAndGlyphs">index</text>
</g>
</g>
<g fill="#ff1400" stroke="#ff1400" shape-rendering="crispEdges"><g stroke="none"><rect x="592" y="152" width="1" height="5"/><rect x="592" y="160" width="1" height="7"/><rect x="607" y="152" width="1" height="6"/><rect x="607" y="160" width="1" height="7"/><rect x="592" y="162" width="16" height="2"/><polygon points="598.6,159.5 606,153.4 607,153.4 607,156.2 600.6,161.3"/></g><path fill="none" stroke-width="1" stroke-linecap="square" d="M593.5 154.5L600.5 161.5"/><g stroke="none"><rect x="592" y="132" width="16" height="2"/><rect x="603" y="128" width="1" height="13"/><rect x="607" y="130" width="1" height="7"/></g><path fill="none" stroke-width="1" stroke-linecap="square" d="M593.5 133.5L602.5 139.5"/><path fill="none" stroke-width="1" stroke-linecap="square" d="M589.5 148.5L600.5 143.5L602.5 143.5L613.5 148.5"/></g>
<g fill="#ffd700" stroke="#ffd700" shape-rendering="crispEdges"><g stroke="none"><rect x="592" y="224" width="1" height="5"/><rect x="592" y="232" width="1" height="7"/><rect x="607" y="224" width="1" height="6"/><rect x="607" y="232" width="1" height="7"/><rect x="592" y="234" width="16" height="2"/><polygon points="598.6,231.5 606,225.4 607,225.4 607,228.2 600.6,233.3"/></g><path fill="none" stroke-width="1" stroke-linecap="square" d="M593.5 226.5L600.5 233.5"/><g stroke="none"><rect x="592" y="196" width="16" height="2"/><rect x="603" y="192" width="1" height="13"/><rect x="607" y="194" width="1" height="7"/></g><path fill="none" stroke-width="1" stroke-linecap="square" d="M593.5 197.5L602.5 203.5"/><g stroke="none"><rect x="597" y="208" width="2" height="13"/><rect x="603" y="208" width="2" height="13"/></g></g>
<g fill="#17ff00" stroke="#17ff00" shape-rendering="crispEdges"><g stroke="none"><rect x="592" y="296" width="1" height="5"/><rect x="592" y="304" width="1" height="7"/><rect x="607" y="296" width="1" height="6"/><rect x="607" y="304" width="1" height="7"/><rect x="592" y="306" width="16" height="2"/><polygon points="598.6,303.5 606,297.4 607,297.4 607,300.2 600.6,305.3"/></g><path fill="none" stroke-width="1" stroke-linecap="square" d="M593.5 298.5L600.5 305.5"/><g stroke="none"><rect x="592" y="276" width="16" height="2"/><rect x="603" y="272" width="1" height="13"/><rect x="607" y="274" width="1" height="7"/></g><path fill="none" stroke-width="1" stroke-linecap="square" d="M593.5 277.5L602.5 283.5"/><path fill="none" stroke-width="1" stroke-linecap="square" d="M589.5 288.5L600.5 293.5L602.5 293.5L613.5 288.5"/></g>
</svg></body></html>
